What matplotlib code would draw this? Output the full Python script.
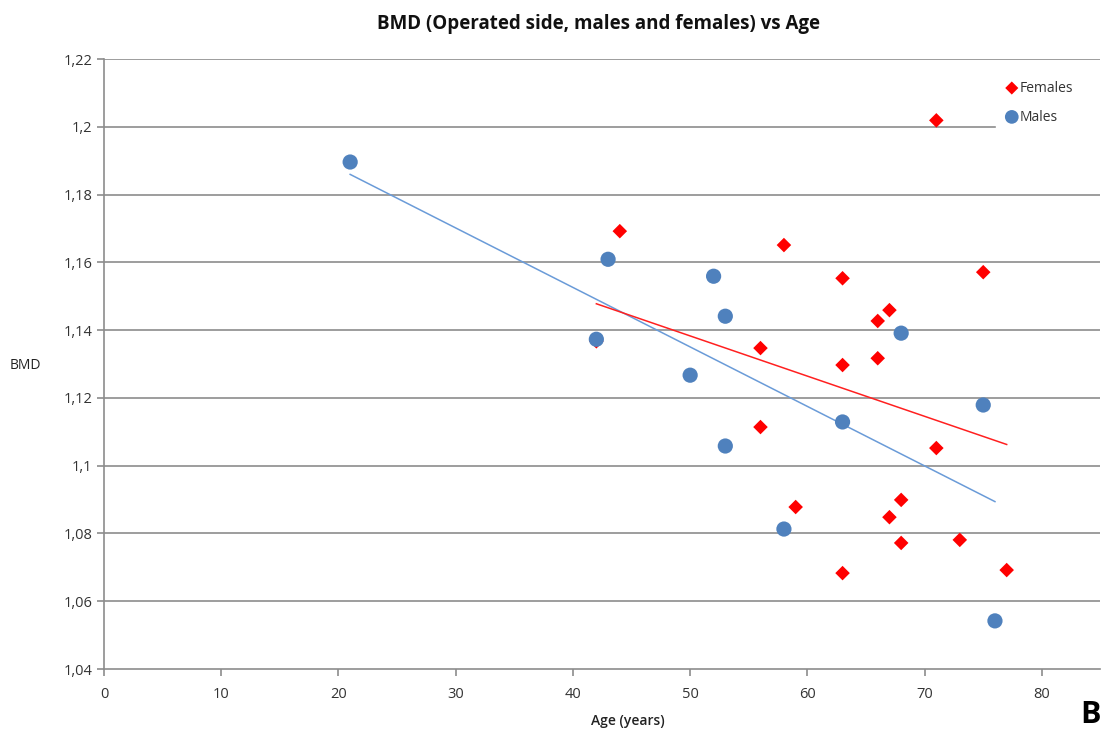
import numpy as np
import matplotlib.pyplot as plt
from matplotlib.ticker import FuncFormatter

# data
male_age = [21, 43, 42, 52, 53, 50, 53, 58, 63, 68, 75, 76]
male_bmd = [1.1896, 1.1609, 1.1373, 1.1559, 1.1441, 1.1267, 1.1058, 1.0813,
            1.1129, 1.1391, 1.1179, 1.0542]

female_age = [42, 44, 58, 63, 56, 66, 67, 66, 63, 56, 71, 71, 75, 59, 68, 67,
              68, 73, 63, 77]
female_bmd = [1.1367, 1.1692, 1.1651, 1.1553, 1.1347, 1.1427, 1.1459, 1.1317,
              1.1297, 1.1114, 1.1052, 1.2019, 1.1571, 1.0878, 1.0899, 1.0848,
              1.0772, 1.0781, 1.0683, 1.0692]

plt.rcParams['font.family'] = ['Open Sans', 'DejaVu Sans']

fig = plt.figure(figsize=(11.06, 7.33), dpi=100)
ax = fig.add_axes([0.094, 0.0873, 0.901, 0.8322])

grid_col = '#8c8c8c'
for v in np.arange(1.06, 1.2201, 0.02):
    ax.axhline(v, color=grid_col, lw=1.2, zorder=1)

# linear trendlines
for xs, ys, col in [(male_age, male_bmd, '#6a9bd8'), (female_age, female_bmd, '#ff2020')]:
    k, b = np.polyfit(xs, ys, 1)
    xx = np.array([min(xs), max(xs)])
    ax.plot(xx, k * xx + b, color=col, lw=1.1, zorder=2)

ax.scatter(female_age, female_bmd, marker='D', s=55, color='#ff0000',
           edgecolors='none', zorder=3, label='Females')
ax.scatter(male_age, male_bmd, marker='o', s=120, color='#4f81bd',
           edgecolors='none', zorder=4, label='Males')

ax.set_xlim(0, 85)
ax.set_ylim(1.04, 1.22)
ax.set_xticks(np.arange(0, 81, 10))
ax.set_yticks(np.arange(1.04, 1.2201, 0.02))

def comma_fmt(v, pos):
    s = f'{v:.2f}'.rstrip('0').rstrip('.')
    return s.replace('.', ',')

ax.yaxis.set_major_formatter(FuncFormatter(comma_fmt))
ax.tick_params(axis='both', colors=grid_col, labelcolor='#333333',
               labelsize=10.5, length=5, width=1.2, direction='out')
ax.tick_params(axis='x', pad=8)

for side in ['top', 'right']:
    ax.spines[side].set_visible(False)
for side in ['left', 'bottom']:
    ax.spines[side].set_color(grid_col)
    ax.spines[side].set_linewidth(1.2)

leg = ax.legend(loc='upper left', bbox_to_anchor=(0.888, 0.985, 0.13, 0.0),
                mode='expand', frameon=True,
                fontsize=10, handletextpad=-0.2, borderpad=0.4, labelspacing=1.0,
                markerscale=0.9, scatterpoints=1, handlelength=1.5)
leg.get_frame().set_facecolor('white')
leg.get_frame().set_edgecolor('white')
leg.get_frame().set_alpha(1)
for t in leg.get_texts():
    t.set_color('#333333')

fig.text(0.541, 0.967, 'BMD (Operated side, males and females) vs Age',
         ha='center', va='center', fontsize=13.5, fontweight='bold', color='#111111')
fig.text(0.568, 0.017, 'Age (years)', ha='center', va='center',
         fontsize=10, fontweight='semibold', color='#222222')
fig.text(0.009, 0.502, 'BMD', ha='left', va='center', fontsize=10, color='#222222')
fig.text(0.986, 0.025, 'B', ha='center', va='center', fontsize=22,
         fontweight='bold', color='black')

fig.savefig('out.png', dpi=100)
